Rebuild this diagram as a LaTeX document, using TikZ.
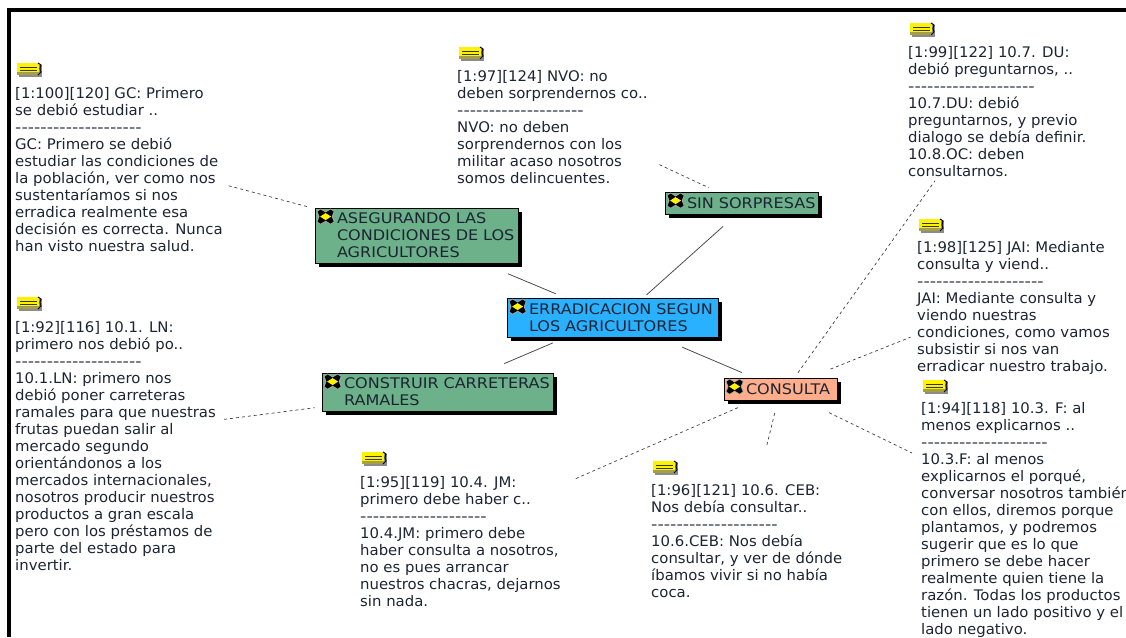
\documentclass[tikz,border=0pt]{standalone}
\usepackage{fontspec}
\setmainfont[Ligatures=TeXOff,FakeStretch=1.02]{DejaVu Sans}
\newfontfamily\codefont[Ligatures=TeXOff,FakeStretch=1.1]{DejaVu Sans}
\newfontfamily\rowfont[Ligatures=TeXOff,FakeStretch=1.2]{DejaVu Sans}
\newcommand{\dashrow}{{\rowfont --------------------}}
\usetikzlibrary{shadows}
\definecolor{inkc}{HTML}{1C2433}
\definecolor{greenc}{HTML}{6DB18A}
\definecolor{bluec}{HTML}{29B0FF}
\definecolor{orangec}{HTML}{FFAD8A}
\tikzset{
  note/.style={anchor=north west,inner sep=0pt,align=left,text=inkc,font=\fontsize{14.6}{17}\selectfont},
  code/.style={draw=black,line width=0.8pt,inner xsep=1pt,inner ysep=0pt,text=inkc,font=\codefont\fontsize{14.6}{17}\selectfont,
    drop shadow={shadow xshift=4pt,shadow yshift=-4pt,opacity=1,fill=black},
    execute at begin node={\raggedright\leftskip=21pt\relax}},
  solidlink/.style={draw=black!70,line width=0.8pt},
  dashlink/.style={draw=black!75,line width=0.7pt,dash pattern=on 3pt off 3pt},
  noteicon/.pic={
    \fill[black!45] (3,3) rectangle (26,15);
    \fill[yellow] (1,1) rectangle (23,12);
    \fill[yellow!60!black] (1,10) rectangle (23,13);
    \draw[black!80,line width=0.8pt] (4,5) -- (21,5) (4,8) -- (21,8);
    \draw[black,line width=1pt] (22,1) -- (25,3) -- (24,6.5) -- (25,10) -- (22,13);
  },
  staricon/.pic={
    \fill[black!35] (-1,2) -- (3,-1) -- (8,2) -- (13,-1) -- (17,2) -- (15,7) -- (17,12) -- (13,15) -- (8,12) -- (3,15) -- (-1,12) -- (1,7) -- cycle;
    \fill[black] (0,2) -- (3,0) -- (8,3) -- (13,0) -- (16,2) -- (14,7) -- (16,12) -- (13,14) -- (8,11) -- (3,14) -- (0,12) -- (2,7) -- cycle;
    \fill[yellow] (8,3.5) -- (13.5,7) -- (8,10.5) -- (2.5,7) -- cycle;
  }
}
\begin{document}
\begin{tikzpicture}[x=1pt,y=-1pt]
\useasboundingbox (0,0) rectangle (1126,637);
% frame
\draw[line width=4pt] (9,637) -- (9,10) -- (1126,10);

% codes
\node[code,fill=bluec,text width=209pt,minimum height=39pt] (cen) at (612.5,317.5) {ERRADICACION SEGUN\\LOS AGRICULTORES};
\node[code,fill=greenc,text width=201pt,minimum height=55pt] (aseg) at (416.5,235.5) {ASEGURANDO LAS\\CONDICIONES DE LOS\\AGRICULTORES};
\node[code,fill=greenc,text width=229pt,minimum height=38pt] (carr) at (437.5,392) {CONSTRUIR CARRETERAS\\RAMALES};
\node[code,fill=greenc,text width=151pt,minimum height=22pt] (sin) at (741.5,203) {SIN SORPRESAS};
\node[code,fill=orangec,text width=111pt,minimum height=22pt] (cons) at (780.5,389) {CONSULTA};

% notes
\node[note] (gc) at (15,62) {\mbox{}\\[19pt][1:100][120] GC: Primero\\se debió estudiar ..\\\dashrow\\GC: Primero se debió\\estudiar las condiciones de\\la población, ver como nos\\sustentaríamos si nos\\erradica realmente esa\\decisión es correcta. Nunca\\han visto nuestra salud.};
\node[note] (nvo) at (457,46) {\mbox{}\\[18pt][1:97][124] NVO: no\\deben sorprendernos co..\\\dashrow\\NVO: no deben\\sorprendernos  con los\\militar acaso nosotros\\somos delincuentes.};
\node[note] (du) at (908,22) {\mbox{}\\[18pt][1:99][122] 10.7. DU:\\debió preguntarnos, ..\\\dashrow\\10.7.DU: debió\\preguntarnos, y previo\\dialogo se debía definir.\\10.8.OC: deben\\consultarnos.};
\node[note] (jai) at (917,218) {\mbox{}\\[17pt][1:98][125] JAI: Mediante\\consulta y viend..\\\dashrow\\JAI: Mediante consulta y\\viendo nuestras\\condiciones, como vamos\\subsistir si nos van\\erradicar nuestro trabajo.};
\node[note] (lnn) at (15,296) {\mbox{}\\[19pt][1:92][116] 10.1. LN:\\primero nos debió po..\\\dashrow\\10.1.LN: primero nos\\debió poner carreteras\\ramales para que nuestras\\frutas puedan salir al\\mercado segundo\\orientándonos a los\\mercados internacionales,\\nosotros producir nuestros\\productos a gran escala\\pero con los préstamos de\\parte del estado para\\invertir.};
\node[note] (fnote) at (921,379) {\mbox{}\\[17pt][1:94][118] 10.3. F: al\\menos explicarnos ..\\\dashrow\\10.3.F: al menos\\explicarnos el porqué,\\conversar nosotros también\\con ellos,  diremos porque\\plantamos,  y podremos\\sugerir que es lo que\\primero se debe hacer\\realmente quien tiene la\\razón. Todas los productos\\tienen un lado positivo y el\\lado negativo.};
\node[note] (jm) at (360,451) {\mbox{}\\[19pt][1:95][119] 10.4. JM:\\primero debe haber c..\\\dashrow\\10.4.JM: primero debe\\haber consulta a nosotros,\\no es pues arrancar\\nuestros chacras, dejarnos\\sin nada.};
\node[note] (ceb) at (651,460) {\mbox{}\\[18pt][1:96][121] 10.6. CEB:\\Nos debía consultar..\\\dashrow\\10.6.CEB: Nos debía\\consultar, y ver de dónde\\íbamos vivir si no había\\coca.};

% icons
\foreach \n in {gc,nvo,du,jai,lnn,fnote,jm,ceb}
  \pic at ([xshift=1pt]\n.north west) {noteicon};
\foreach \n in {cen,aseg,carr,sin,cons}
  \pic at ([xshift=3pt,yshift=-2pt]\n.north west) {staricon};

% links
\draw[solidlink,shorten <=27pt,shorten >=10pt] (aseg) -- (cen);
\draw[solidlink,shorten <=23pt,shorten >=14pt] (carr) -- (cen);
\draw[solidlink,shorten <=4pt,shorten >=18pt] ([xshift=31pt]cen.north) -- ([xshift=-5pt]sin.south);
\draw[solidlink,shorten <=25pt,shorten >=13pt] (cen) -- (cons);
\draw[dashlink,shorten <=6pt,shorten >=5pt] (gc) -- (aseg);
\draw[dashlink,shorten <=13pt,shorten >=9pt] (nvo) -- (sin);
\draw[dashlink,shorten <=8pt,shorten >=7pt] (lnn) -- (carr);
\draw[dashlink,shorten <=6pt,shorten >=5pt] ([xshift=14pt]cons.north) -- ([xshift=30pt]du.south west);
\draw[dashlink,shorten <=23pt,shorten >=7pt] (cons) -- (jai);
\draw[dashlink,shorten <=28pt,shorten >=10pt] (cons) -- (fnote);
\draw[dashlink,shorten <=13pt,shorten >=14pt] (cons) -- (ceb);
\draw[dashlink,shorten <=18pt,shorten >=15pt] (cons) -- (jm);
\end{tikzpicture}
\end{document}
